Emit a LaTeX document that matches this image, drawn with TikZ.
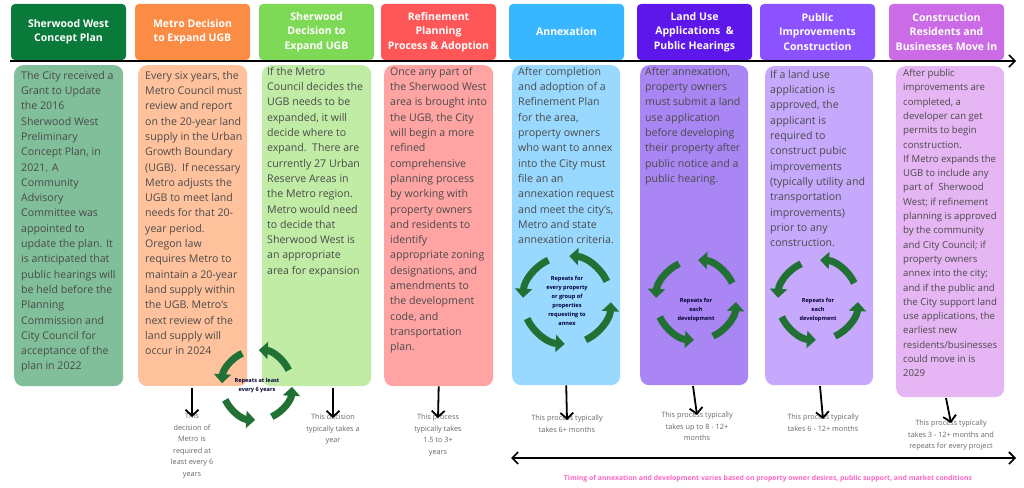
\documentclass[tikz,border=0pt]{standalone}
\usepackage{fontspec}
\setmainfont{Open Sans}
\usetikzlibrary{arrows.meta,calc}
\definecolor{h1}{HTML}{0A7A3A}\definecolor{b1}{HTML}{80BF9A}
\definecolor{h2}{HTML}{FB8C46}\definecolor{b2}{HTML}{FFC29C}
\definecolor{h3}{HTML}{7ED957}\definecolor{b3}{HTML}{C1ECA6}
\definecolor{h4}{HTML}{FF5757}\definecolor{b4}{HTML}{FFA3A3}
\definecolor{h5}{HTML}{38B6FF}\definecolor{b5}{HTML}{99D8FF}
\definecolor{h6}{HTML}{5E17EB}\definecolor{b6}{HTML}{A986F3}
\definecolor{h7}{HTML}{8C52FF}\definecolor{b7}{HTML}{C6A9FD}
\definecolor{h8}{HTML}{CB6CE6}\definecolor{b8}{HTML}{E6B5F3}
\definecolor{cyc}{HTML}{217034}\definecolor{txt}{HTML}{4A4A4A}
\definecolor{pink}{HTML}{FF66C4}
\begin{document}
\begin{tikzpicture}[x=1pt,y=-1pt,
 head/.style={rounded corners=4pt,inner sep=0pt,text=white,align=center,font=\bfseries\fontsize{10.5}{14.5}\selectfont},
 body/.style={rounded corners=9pt,inner sep=0pt},
 btxt/.style={anchor=north west,align=left,inner sep=0pt,text=txt,font=\fontsize{10.6}{15.3}\selectfont},
 captxt/.style={anchor=north,align=center,inner sep=0pt,text=txt!85,font=\fontsize{7.3}{11.5}\selectfont},
 down/.style={line width=1.8pt,-{Straight Barb[length=6pt,width=13pt,line width=1.8pt]}},
 clab/.style={align=center,inner sep=0pt,font=\bfseries\fontsize{5.6}{9}\selectfont,text=black!80!blue}]
\useasboundingbox (0,0) rectangle (1024,487);
\newcommand{\cycl}[3]{%
 \foreach \s in {155,65,-25,-115}{
  \draw[cyc,line width=7pt,-{Triangle[length=9pt,width=17pt]}] ($(#1,#2)+(\s:#3)$) arc[start angle=\s,end angle=\s-62,radius=#3];}}
% headers
\foreach \i/\x in {1/11,2/135,3/259,4/381,5/509,6/637,7/760,8/889}{
 \path[fill=h\i,rounded corners=4pt] (\x,4) rectangle ++(115,56);}
\node[head] (t1) at (68.5,32) {Sherwood West\\Concept Plan};
\node[head] (t2) at (192.5,32) {Metro Decision\\to Expand UGB};
\node[head] (t3) at (316.5,32) {Sherwood\\Decision to\\Expand UGB};
\node[head] (t4) at (438.5,32) {Refinement\\Planning\\Process \& Adoption};
\node[head] (t5) at (566.5,32) {Annexation};
\node[head] (t6) at (694.5,32) {Land Use\\Applications \ \&\\Public Hearings};
\node[head] (t7) at (817.5,32) {Public\\Improvements\\Construction};
\node[head] (t8) at (946.5,32) {Construction\\Residents and\\Businesses Move In};
% timeline
\coordinate (tl0) at (10,61); \coordinate (tl1) at (1016,61);
\draw[line width=1.6pt,-{Straight Barb[length=6pt,width=12pt,line width=1.6pt]}] (tl0) -- (tl1);
% bodies
\node[body,fill=b1,minimum width=109pt,minimum height=321pt,anchor=north west] (c1) at (14,65) {};
\node[body,fill=b2,minimum width=109pt,minimum height=321pt,anchor=north west] (c2) at (138,65) {};
\node[body,fill=b3,minimum width=109pt,minimum height=321pt,anchor=north west] (c3) at (262,65) {};
\node[body,fill=b4,minimum width=109pt,minimum height=321pt,anchor=north west] (c4) at (384,65) {};
\node[body,fill=b5,minimum width=108pt,minimum height=320pt,anchor=north west] (c5) at (512,65) {};
\node[body,fill=b6,minimum width=108pt,minimum height=320pt,anchor=north west] (c6) at (640,65) {};
\node[body,fill=b7,minimum width=108pt,minimum height=319pt,anchor=north west] (c7) at (765,66) {};
\node[body,fill=b8,minimum width=108pt,minimum height=331pt,anchor=north west] (c8) at (896,66) {};
\node[btxt] (x1) at (21,71) {The City received a\\Grant to Update\\the 2016\\Sherwood West\\Preliminary\\Concept Plan, in\\2021. A\\Community\\Advisory\\Committee was\\appointed to\\update the plan. It\\is anticipated that\\public hearings will\\be held before the\\Planning\\Commission and\\City Council for\\acceptance of the\\plan in 2022};
\node[btxt] (x2) at (145,71) {Every six years, the\\Metro Council must\\review and report\\on the 20-year land\\supply in the Urban\\Growth Boundary\\(UGB).\ \ If necessary\\Metro adjusts the\\UGB to meet land\\needs for that 20-\\year period.\\Oregon law\\requires Metro to\\maintain a 20-year\\land supply within\\the UGB. Metro's\\next review of the\\land supply will\\occur in 2024};
\node[btxt] (x3) at (267,67) {If the Metro\\Council decides the\\UGB needs to be\\expanded, it will\\decide where to\\expand.\ \ There are\\currently 27 Urban\\Reserve Areas in\\the Metro region.\\Metro would need\\to decide that\\Sherwood West is\\an appropriate\\area for expansion};
\node[btxt] (x4) at (390,67) {Once any part of\\the Sherwood West\\area is brought into\\the UGB, the City\\will begin a more\\refined\\comprehensive\\planning process\\by working with\\property owners\\and residents to\\identify\\appropriate zoning\\designations, and\\amendments to\\the development\\code, and\\transportation\\plan.};
\node[btxt] (x5) at (518,67) {After completion\\and adoption of a\\Refinement Plan\\for the area,\\property owners\\who want to annex\\into the City must\\file an an\\annexation request\\and meet the city's,\\Metro and state\\annexation criteria.};
\node[btxt] (x6) at (645,67) {After annexation,\\property owners\\must submit a land\\use application\\before developing\\their property after\\public notice and a\\public hearing.};
\node[btxt] (x7) at (770,70) {If a land use\\application is\\approved, the\\applicant is\\required to\\construct pubic\\improvements\\(typically utility and\\transportation\\improvements)\\prior to any\\construction.};
\node[btxt,font=\fontsize{9.6}{14.3}\selectfont] (x8) at (903,69) {After public\\improvements are\\completed, a\\developer can get\\permits to begin\\construction.\\If Metro expands the\\UGB to include any\\part of\ \ Sherwood\\West; if refinement\\planning is approved\\by the community\\and City Council; if\\property owners\\annex into the city;\\and if the public and\\the City support land\\use applications, the\\earliest new\\residents/businesses\\could move in is\\2029};
% cycles
\cycl{257}{385}{35}
\node[clab] (r2) at (257,386) {Repeats at least\\every 6 years};
\cycl{567}{300}{44}
\node[clab] (r5) at (567,301) {Repeats for\\every property\\or group of\\properties\\requesting to\\annex};
\cycl{696}{300}{40}
\node[clab] (r6) at (696,310) {Repeats for\\each\\development};
\cycl{818}{300}{40}
\node[clab] (r7) at (818,310) {Repeats for\\each\\development};
% captions
\node[captxt] (k2) at (192,413) {This\\decision of\\Metro is\\required at\\least every 6\\years};
\node[captxt] (k3) at (333,414) {This decision\\typically takes a\\year};
\node[captxt] (k4) at (438,414) {This process\\typically takes\\1.5 to 3+\\years};
\node[captxt] (k5) at (567,415) {This process typically\\takes 6+ months};
\node[captxt] (k6) at (697,412) {This process typically\\takes up to 8 - 12+\\months};
\node[captxt] (k7) at (823,414) {This process typically\\takes 6 - 12+ months};
\node[captxt] (k8) at (951,420) {This process typically\\takes 3 - 12+ months and\\repeats for every project};
\draw[down] (192,388) -- ([yshift=-4pt]k2.north);
\draw[down] (333,388) -- ([yshift=-4pt]k3.north);
\draw[down] (c4.south) -- ([yshift=-4pt]k4.north);
\draw[down] (c5.south) -- ([yshift=-5pt]k5.north);
\draw[down] (693,386) -- ([yshift=-3pt]k6.north);
\draw[down] (820,386) -- ([yshift=-5pt]k7.north);
\draw[down] (946,398) -- ([yshift=-3pt]k8.north);
% bottom
\coordinate (ba) at (511,458); \coordinate (bb) at (1016,458);
\draw[line width=1.6pt,{Straight Barb[length=6pt,width=12pt,line width=1.6pt]}-{Straight Barb[length=6pt,width=12pt,line width=1.6pt]}] (ba) -- (bb);
\node[text=pink,font=\bfseries\fontsize{6.9}{8}\selectfont,inner sep=0pt] (note) at (768,479) {Timing of annexation and development varies based on property owner desires, public support, and market conditions};
\end{tikzpicture}
\end{document}
